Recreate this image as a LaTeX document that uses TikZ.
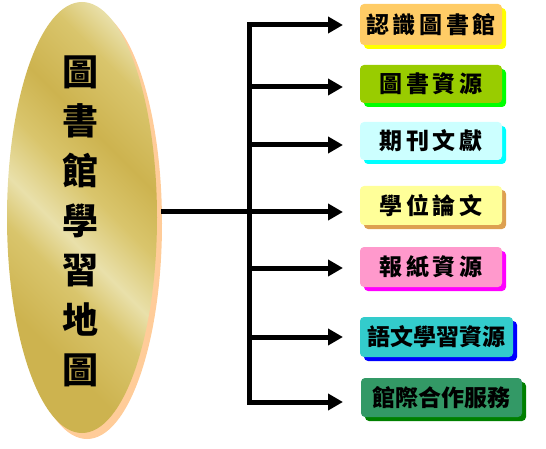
\documentclass[tikz,border=0pt]{standalone}
\usepackage{fontspec}
\newfontfamily\cjk{Noto Sans CJK TC}
\newfontfamily\cjkwide[LetterSpace=16]{Noto Sans CJK TC}
\usetikzlibrary{arrows.meta,shadows,shapes.geometric}
\definecolor{goldA}{HTML}{CDB34F}
\definecolor{goldB}{HTML}{D9C56C}
\definecolor{goldC}{HTML}{E9E0AA}
\definecolor{peach}{HTML}{FFCC99}
\definecolor{fillA}{HTML}{FFCC66}
\definecolor{fillB}{HTML}{99CC00}
\definecolor{fillC}{HTML}{CCFFFF}
\definecolor{fillD}{HTML}{FFFF99}
\definecolor{fillE}{HTML}{FF99CC}
\definecolor{fillF}{HTML}{33CCCC}
\definecolor{fillG}{HTML}{339966}
\definecolor{shA}{HTML}{FFFF00}
\definecolor{shB}{HTML}{00FF00}
\definecolor{shC}{HTML}{00FFFF}
\definecolor{shD}{HTML}{DDA050}
\definecolor{shE}{HTML}{FF00FF}
\definecolor{shF}{HTML}{0000FF}
\definecolor{shG}{HTML}{008000}
\pgfdeclarehorizontalshading{goldsheen}{100bp}{color(0bp)=(goldA); color(30bp)=(goldA); color(40bp)=(goldB); color(46bp)=(goldC); color(54bp)=(goldB); color(62bp)=(goldA); color(72bp)=(goldB); color(78bp)=(goldC); color(86bp)=(goldA); color(100bp)=(goldA)}
\begin{document}
\begin{tikzpicture}[x=1pt,y=-1pt,
  cbox/.style={rounded corners=4pt, inner sep=0pt, minimum height=39pt, minimum width=142pt,
    font=\cjkwide\bfseries\fontsize{23}{23}\selectfont},
  cboxn/.style={cbox, font=\cjk\bfseries\fontsize{23}{23}\selectfont},
  shad/.style={drop shadow={shadow xshift=4pt, shadow yshift=-4pt, fill=#1, opacity=1}},
  conn/.style={line width=5pt, -{Triangle[length=15pt,width=16pt]}},
  busline/.style={line width=5pt, line cap=rect}]
\useasboundingbox (0,0) rectangle (546,449);
% central ellipse
\node (ell) [ellipse, minimum width=150pt, minimum height=431pt, inner sep=0pt,
  shading=goldsheen, shading angle=45,
  drop shadow={shadow xshift=5pt, shadow yshift=-6pt, fill=peach, opacity=1}]
  at (82,217.5) {};
\node (title) [align=center, font=\cjk\bfseries\fontsize{36}{49.7}\selectfont]
  at (80,221) {圖\\書\\館\\學\\習\\地\\圖};
% boxes
\node (b1) [cbox, minimum height=41pt, fill=fillA, shad=shA] at (431,24.5) {認識圖書館};
\node (b2) [cbox, minimum height=38pt, fill=fillB, shad=shB] at (431,84) {圖書資源};
\node (b3) [cbox, minimum height=38pt, fill=fillC, shad=shC] at (431,141) {期刊文獻};
\node (b4) [cbox, minimum height=39pt, fill=fillD, shad=shD] at (431,205.5) {學位論文};
\node (b5) [cbox, minimum height=40pt, fill=fillE, shad=shE] at (431,267) {報紙資源};
\node (b6) [cboxn, minimum width=153pt, minimum height=40pt, fill=fillF, shad=shF] at (436.5,337) {語文學習資源};
\node (b7) [cboxn, minimum width=161pt, minimum height=39pt, fill=fillG, shad=shG] at (441.5,397.5) {館際合作服務};
% connector points
\coordinate (bt) at (249,25);
\coordinate (bb) at (249,402);
\coordinate (hub) at (249,212);
\coordinate (a1) at (343,25);
\coordinate (a2) at (343,87);
\coordinate (a3) at (343,145);
\coordinate (a4) at (343,212);
\coordinate (a5) at (343,268);
\coordinate (a6) at (343,337);
\coordinate (a7) at (343,402);
\draw[busline] (bt) -- (bb);
\draw[line width=5pt] ([xshift=4pt]ell.east |- hub) -- (hub);
\draw[conn] (bt) -- (a1);
\draw[conn] (bt |- a2) -- (a2);
\draw[conn] (bt |- a3) -- (a3);
\draw[conn] (hub) -- (a4);
\draw[conn] (bt |- a5) -- (a5);
\draw[conn] (bt |- a6) -- (a6);
\draw[conn] (bb) -- (a7);
\end{tikzpicture}
\end{document}
